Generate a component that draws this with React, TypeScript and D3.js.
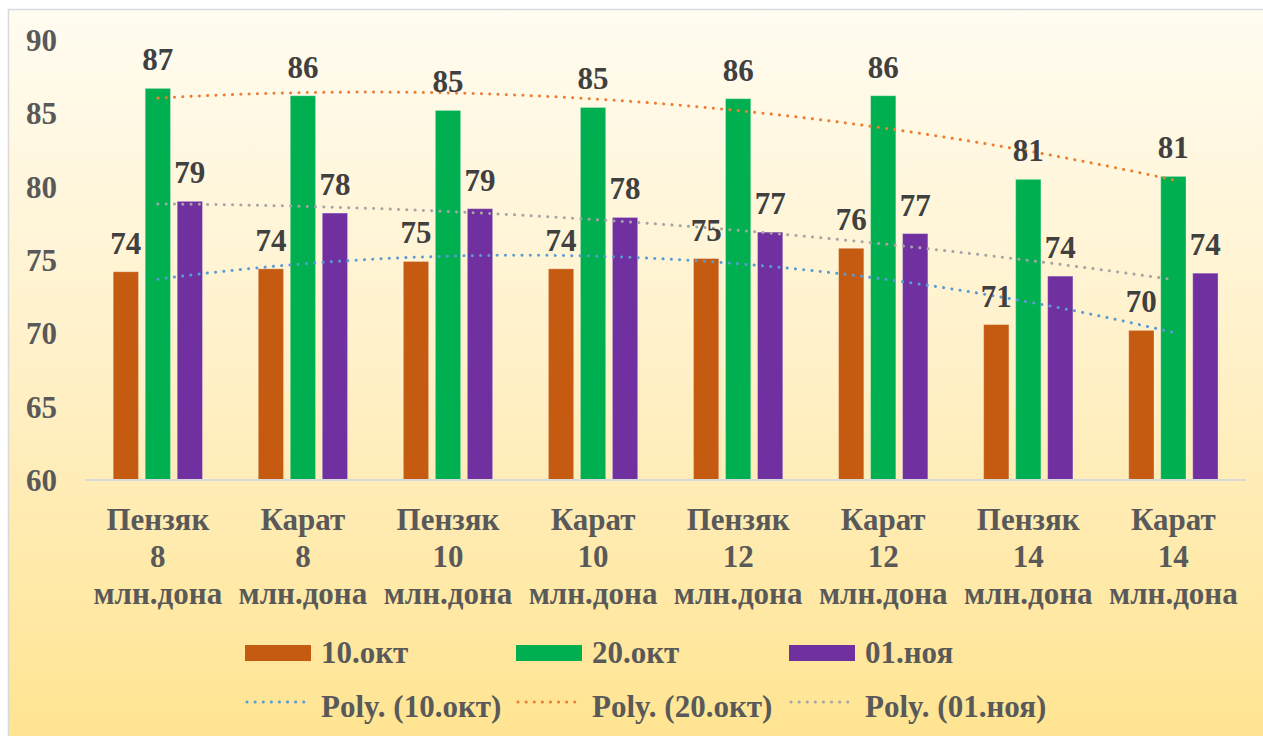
import React from "react";
import * as d3 from "d3";

const categories = [
  ["Пензяк", "8", "млн.дона"],
  ["Карат", "8", "млн.дона"],
  ["Пензяк", "10", "млн.дона"],
  ["Карат", "10", "млн.дона"],
  ["Пензяк", "12", "млн.дона"],
  ["Карат", "12", "млн.дона"],
  ["Пензяк", "14", "млн.дона"],
  ["Карат", "14", "млн.дона"],
];
const seriesNames = ["10.окт", "20.окт", "01.ноя"];
const oct10 = [74.2, 74.4, 74.9, 74.4, 75.1, 75.8, 70.6, 70.2];
const oct20 = [86.7, 86.2, 85.2, 85.4, 86.0, 86.2, 80.5, 80.7];
const nov01 = [79.0, 78.2, 78.5, 77.9, 76.9, 76.8, 73.9, 74.1];
const yTicks = [60, 65, 70, 75, 80, 85, 90];
const barColors = ["#C55A11", "#00B050", "#7030A0"];
const trendColors = ["#5B9BD5", "#ED7D31", "#A5A5A5"];

const series = [oct10, oct20, nov01];

function polyFit2(ys: number[]) {
  let s0 = 0, s1 = 0, s2 = 0, s3 = 0, s4 = 0, t0 = 0, t1 = 0, t2 = 0;
  ys.forEach((yv, i) => {
    const x = i + 1;
    s0 += 1; s1 += x; s2 += x * x; s3 += x ** 3; s4 += x ** 4;
    t0 += yv; t1 += x * yv; t2 += x * x * yv;
  });
  const M = [
    [s0, s1, s2, t0],
    [s1, s2, s3, t1],
    [s2, s3, s4, t2],
  ];
  for (let i = 0; i < 3; i++) {
    for (let k = i + 1; k < 3; k++) {
      const f = M[k][i] / M[i][i];
      for (let j = i; j < 4; j++) M[k][j] -= f * M[i][j];
    }
  }
  const c = M[2][3] / M[2][2];
  const b = (M[1][3] - M[1][2] * c) / M[1][1];
  const a = (M[0][3] - M[0][1] * b - M[0][2] * c) / M[0][0];
  return (x: number) => a + b * x + c * x * x;
}

const txt = { fontFamily: "Liberation Serif", fontWeight: 700 as const, fontSize: 31 };

export default function App() {
  const W = 1263, H = 736;
  const x0 = d3.scaleBand<number>().domain(d3.range(categories.length)).range([85.3, 1245.9]);
  const x1 = d3.scaleBand<number>().domain([0, 1, 2]).range([-44.65, 44.65]).paddingInner(0.21);
  const y = d3.scaleLinear().domain([60, 90]).range([480, 40]);
  const bw = x1.bandwidth();

  const cx = (i: number) => (x0(i) as number) + x0.bandwidth() / 2;
  const sampleX = d3.range(1, 8.001, 0.05);
  const trendLine = d3
    .line<[number, number]>()
    .x((d) => cx(0) + (d[0] - 1) * x0.step())
    .y((d) => y(d[1]));

  const legendX = [245, 516, 789];

  return (
    <div style={{ position: "fixed", left: 0, top: 0, width: W, height: H, overflow: "hidden" }}>
      <svg width={W} height={H} style={{ display: "block" }}>
        <defs>
          <linearGradient id="bg" x1="0" y1="0" x2="0" y2="1">
            <stop offset="0%" stopColor="#FFFCF1" />
            <stop offset="50%" stopColor="#FFF0C6" />
            <stop offset="100%" stopColor="#FFE490" />
          </linearGradient>
        </defs>
        <rect x={0} y={0} width={W} height={H} fill="#ffffff" />
        <rect x={8.5} y={9.5} width={W} height={H} fill="url(#bg)" stroke="#D9D9D9" strokeWidth={1.5} />

        {yTicks.map((t) => (
          <text key={t} x={57} y={y(t)} dy="0.35em" textAnchor="end" style={txt} fill="#595959">
            {t}
          </text>
        ))}

        {categories.map((_, i) => (
          <g key={i} transform={`translate(${cx(i)},0)`}>
            {series.map((s, k) => (
              <rect
                key={k}
                x={x1(k) as number}
                y={y(s[i])}
                width={bw}
                height={y(60) - y(s[i])}
                fill={barColors[k]}
                stroke="#ffffff"
                strokeOpacity={0.3}
                strokeWidth={1}
              />
            ))}
          </g>
        ))}

        <line x1={85.3} x2={1245.9} y1={480} y2={480} stroke="#D9D9D9" strokeWidth={2} />

        {series.map((s, k) => {
          const f = polyFit2(s);
          const pts = sampleX.map((xx) => [xx, f(xx)] as [number, number]);
          return (
            <path
              key={k}
              d={trendLine(pts) || ""}
              fill="none"
              stroke={trendColors[k]}
              strokeWidth={3}
              strokeLinecap="round"
              strokeDasharray="0.1 8.2"
            />
          );
        })}

        {categories.map((_, i) => (
          <g key={i} transform={`translate(${cx(i)},0)`}>
            {series.map((s, k) => (
              <text
                key={k}
                x={(x1(k) as number) + bw / 2}
                y={y(s[i]) - 18}
                textAnchor="middle"
                style={txt}
                fill="#404040"
              >
                {Math.round(s[i])}
              </text>
            ))}
          </g>
        ))}

        {categories.map((lines, i) => (
          <text key={i} textAnchor="middle" style={txt} fill="#595959">
            {lines.map((ln, j) => (
              <tspan key={j} x={cx(i)} y={530 + j * 37}>
                {ln}
              </tspan>
            ))}
          </text>
        ))}

        {seriesNames.map((nm, k) => (
          <g key={k}>
            <rect x={legendX[k]} y={645} width={66} height={16} fill={barColors[k]} />
            <text x={legendX[k] + 76} y={663} style={txt} fill="#595959">
              {nm}
            </text>
            <line
              x1={legendX[k] + 2}
              x2={legendX[k] + 66}
              y1={702}
              y2={702}
              stroke={trendColors[k]}
              strokeWidth={3}
              strokeLinecap="round"
              strokeDasharray="0.1 8"
            />
            <text x={legendX[k] + 76} y={717} style={txt} fill="#595959">
              {`Poly. (${nm})`}
            </text>
          </g>
        ))}
      </svg>
    </div>
  );
}
